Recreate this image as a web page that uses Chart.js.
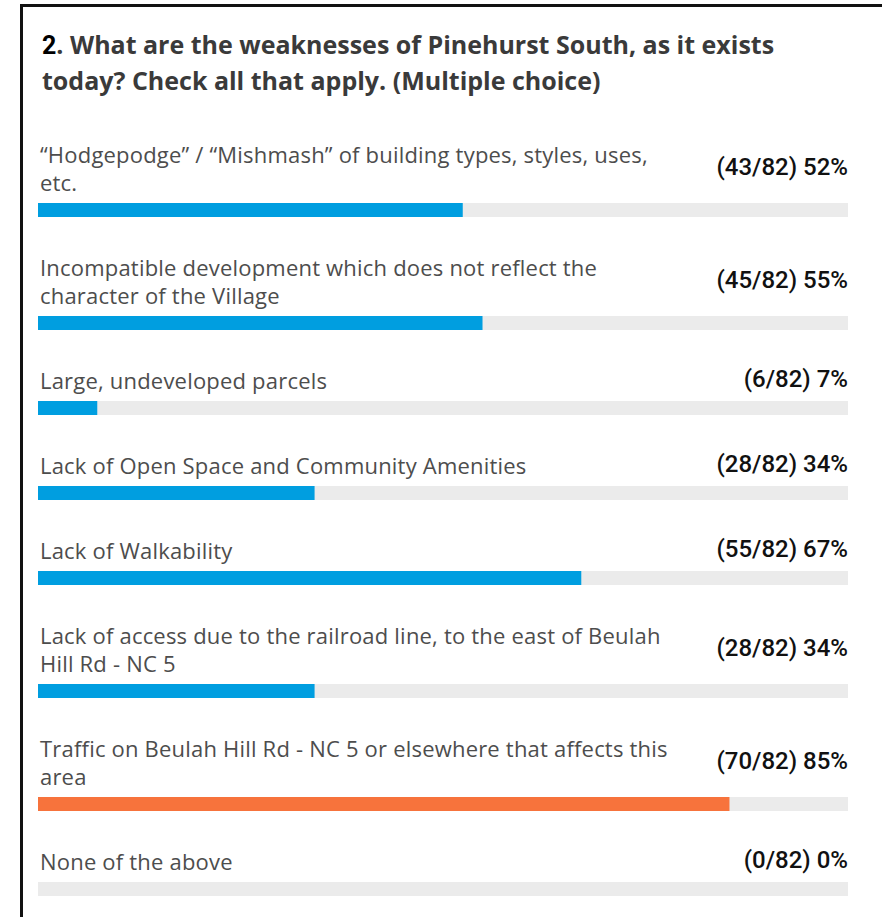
<!DOCTYPE html>
<html>
<head>
<meta charset="utf-8">
<script src="https://cdn.jsdelivr.net/npm/chart.js@4/dist/chart.umd.min.js"></script>
<style>
  html, body { margin: 0; padding: 0; background: #fff; }
  body { width: 882px; height: 917px; overflow: hidden; position: relative; }
  .frame {
    position: absolute; left: 20px; top: 4px; width: 880px; height: 930px;
    border-left: 3px solid #111; border-top: 3px solid #111;
  }
  .title {
    position: absolute; left: 42px; top: 27px; width: 830px;
    font: bold 25px "Open Sans", sans-serif; line-height: 34px; color: #3a3a3a;
  }
  .title .num { color: #000; font-family: Roboto, sans-serif; }
  #rows { position: absolute; left: 38px; top: 139px; width: 810px; }
  .row { margin-bottom: 35px; }
  .head { display: flex; justify-content: space-between; align-items: center; }
  .label { padding-left: 2px; color: #4d4d4d; }
  .label div {
    height: 28px; line-height: 28px; overflow: visible; white-space: nowrap;
    font: 22px "Open Sans", sans-serif; letter-spacing: 0.2px;
  }
  .count { font: 500 24px Roboto, sans-serif; color: #111; white-space: nowrap; }
  .bar { margin-top: 8px; height: 14px; position: relative; }
</style>
</head>
<body>
<div class="frame"></div>
<div class="title"><span class="num">2</span>. What are the weaknesses of Pinehurst South, as it exists<br>today? Check all that apply. (Multiple choice)</div>
<div id="rows"></div>
<script>
const categories = [
  ["\u201CHodgepodge\u201D / \u201CMishmash\u201D of building types, styles, uses,", "etc."],
  ["Incompatible development which does not reflect the", "character of the Village"],
  ["Large, undeveloped parcels"],
  ["Lack of Open Space and Community Amenities"],
  ["Lack of Walkability"],
  ["Lack of access due to the railroad line, to the east of Beulah", "Hill Rd - NC 5"],
  ["Traffic on Beulah Hill Rd - NC 5 or elsewhere that affects this", "area"],
  ["None of the above"]
];
const counts = [43, 45, 6, 28, 55, 28, 70, 0];
const total = 82;

const BLUE = "#009ee0";
const ORANGE = "#f7733c";
const TRACK = "#ebebeb";

function byId(id) {
  return document.getElementById(id);
}

const maxCount = Math.max(...counts);
const root = byId("rows");

categories.forEach((lines, i) => {
  const pct = Math.round((counts[i] / total) * 100);
  const row = document.createElement("div");
  row.className = "row";
  row.innerHTML = `
    <div class="head">
      <div class="label">${lines.map((l) => `<div>${l}</div>`).join("")}</div>
      <div class="count">(${counts[i]}/${total}) ${pct}%</div>
    </div>
    <div class="bar"><canvas width="810" height="14"></canvas></div>`;
  root.appendChild(row);

  new Chart(row.querySelector("canvas"), {
    type: "bar",
    data: {
      labels: [lines.join(" ")],
      datasets: [
        {
          data: [(counts[i] / total) * 100],
          backgroundColor: counts[i] === maxCount ? ORANGE : BLUE,
          barPercentage: 1,
          categoryPercentage: 1,
          inflateAmount: 0,
          grouped: false
        },
        {
          data: [100],
          backgroundColor: TRACK,
          barPercentage: 1,
          categoryPercentage: 1,
          inflateAmount: 0,
          grouped: false
        }
      ]
    },
    options: {
      indexAxis: "y",
      responsive: false,
      animation: false,
      layout: { padding: 0 },
      plugins: { legend: { display: false }, tooltip: { enabled: false } },
      scales: {
        x: { display: false, min: 0, max: 100 },
        y: { display: false }
      }
    }
  });
});
</script>
</body>
</html>
